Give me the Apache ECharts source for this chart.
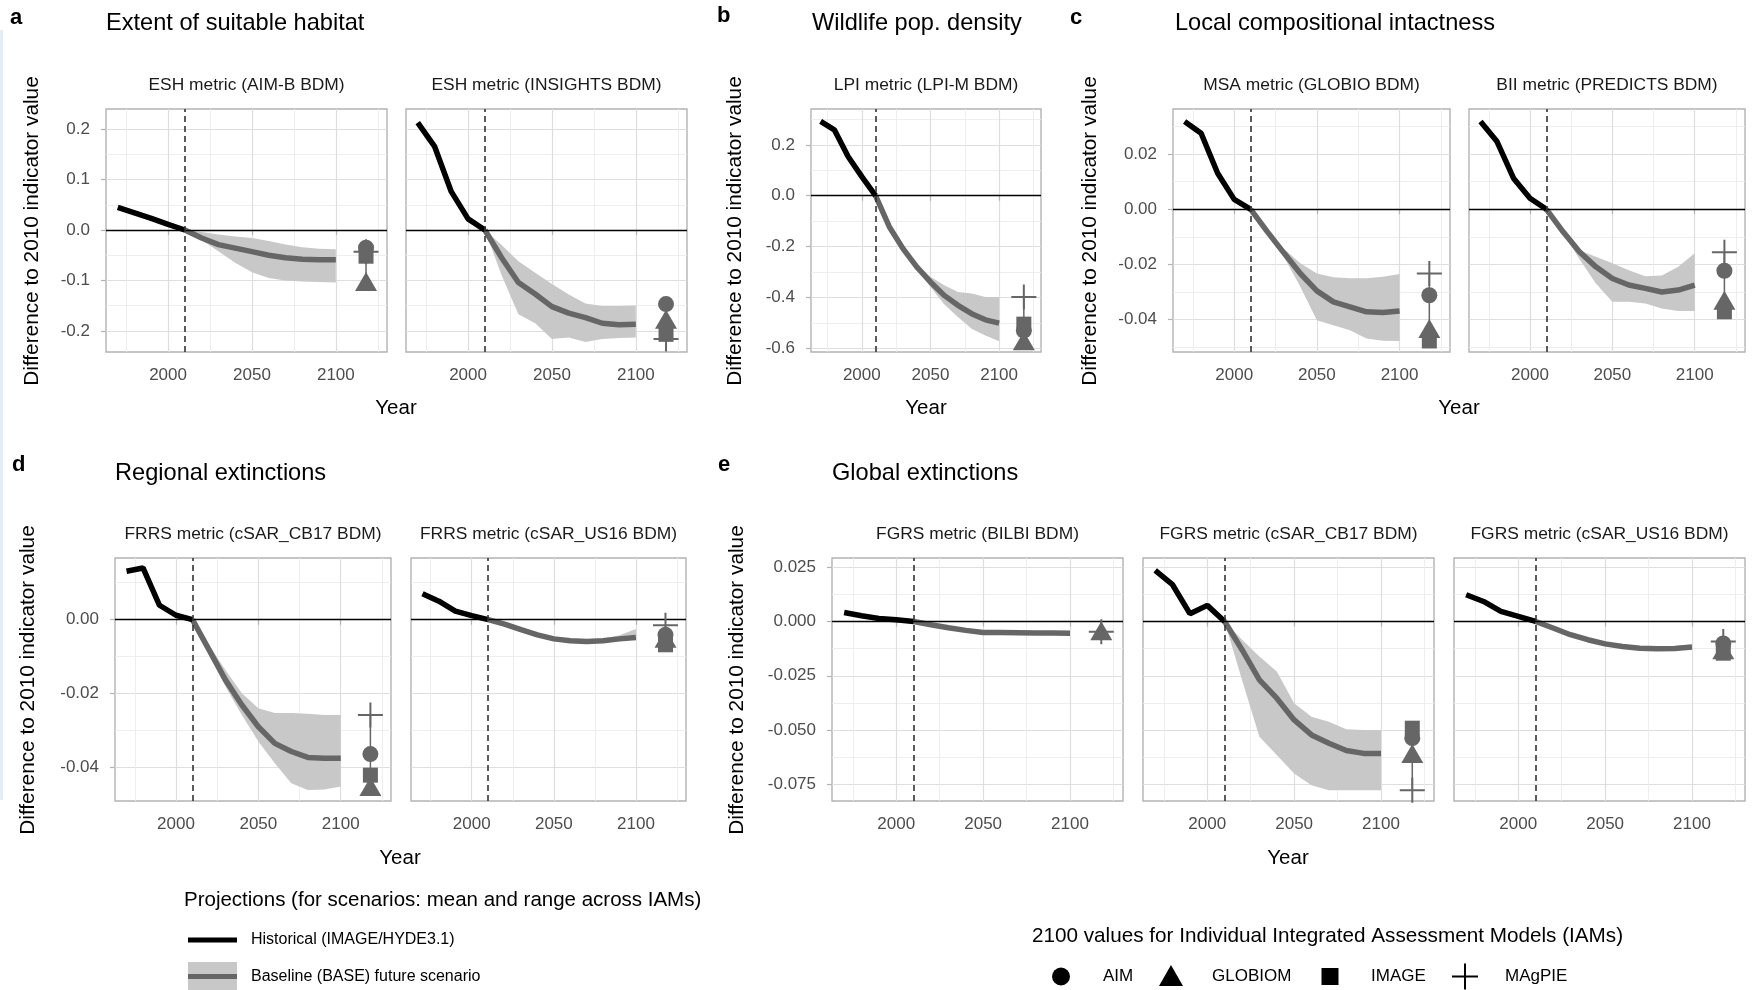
<!DOCTYPE html>
<html>
<head>
<meta charset="utf-8">
<script src="https://cdn.jsdelivr.net/npm/echarts@6/dist/echarts.min.js"></script>
<style>
html,body{margin:0;padding:0;background:#ffffff;}
#chart{width:1752px;height:990px;}
</style>
</head>
<body>
<div id="chart"></div>
<script>
// ---------------- DATA ----------------
const histYears = [1970, 1980, 1990, 2000, 2010];
const futureYears = [2010, 2020, 2030, 2040, 2050, 2060, 2070, 2080, 2090, 2100];
const iamYear = 2118;
const iamNames = ['AIM', 'GLOBIOM', 'IMAGE', 'MAgPIE'];
const xTickLabels = [2000, 2050, 2100];
const xMinorTicks = [1975, 2025, 2075, 2125];
const refYear = 2010;
const refValue = 0;

// a: ESH metric (AIM-B BDM)
const eshAimbHist = [0.045, 0.034, 0.023, 0.011, 0];
const eshAimbMean = [0, -0.016, -0.029, -0.036, -0.043, -0.050, -0.055, -0.058, -0.059, -0.059];
const eshAimbLow  = [0, -0.020, -0.042, -0.065, -0.084, -0.095, -0.100, -0.102, -0.103, -0.104];
const eshAimbHigh = [0, -0.004, -0.009, -0.013, -0.016, -0.022, -0.029, -0.034, -0.037, -0.038];
const eshAimbIam  = [-0.035, -0.102, -0.052, -0.043];

// a: ESH metric (INSIGHTS BDM)
const eshInsHist = [0.213, 0.166, 0.076, 0.022, 0];
const eshInsMean = [0, -0.055, -0.104, -0.127, -0.152, -0.165, -0.174, -0.185, -0.188, -0.187];
const eshInsLow  = [0, -0.090, -0.167, -0.185, -0.216, -0.213, -0.222, -0.216, -0.214, -0.213];
const eshInsHigh = [0, -0.030, -0.062, -0.085, -0.107, -0.128, -0.146, -0.151, -0.151, -0.150];
const eshInsIam  = [-0.147, -0.177, -0.207, -0.216];

// b: LPI metric (LPI-M BDM)
const lpiHist = [0.292, 0.259, 0.154, 0.075, 0];
const lpiMean = [0, -0.122, -0.208, -0.280, -0.339, -0.392, -0.431, -0.464, -0.488, -0.501];
const lpiLow  = [0, -0.127, -0.213, -0.287, -0.359, -0.427, -0.477, -0.523, -0.550, -0.572];
const lpiHigh = [0, -0.117, -0.203, -0.274, -0.319, -0.352, -0.379, -0.385, -0.398, -0.398];
const lpiIam  = [-0.530, -0.570, -0.505, -0.398];

// c: MSA metric (GLOBIO BDM)
const msaHist = [0.0319, 0.0276, 0.0131, 0.0036, 0];
const msaMean = [0, -0.0081, -0.0158, -0.0233, -0.0296, -0.0336, -0.0354, -0.0372, -0.0375, -0.0369];
const msaLow  = [0, -0.0087, -0.0172, -0.0281, -0.0403, -0.0421, -0.0439, -0.0469, -0.0477, -0.0478];
const msaHigh = [0, -0.0075, -0.0143, -0.0196, -0.0233, -0.0247, -0.0250, -0.0250, -0.0245, -0.0235];
const msaIam  = [-0.0312, -0.0433, -0.0478, -0.0233];

// c: BII metric (PREDICTS BDM)
const biiHist = [0.0319, 0.0246, 0.0113, 0.0040, 0];
const biiMean = [0, -0.0081, -0.0154, -0.0209, -0.0251, -0.0275, -0.0287, -0.0300, -0.0293, -0.0275];
const biiLow  = [0, -0.0085, -0.0180, -0.0269, -0.0336, -0.0336, -0.0342, -0.0360, -0.0369, -0.0369];
const biiHigh = [0, -0.0077, -0.0149, -0.0172, -0.0196, -0.0221, -0.0243, -0.0240, -0.0209, -0.0160];
const biiIam  = [-0.0223, -0.0330, -0.0372, -0.0156];

// d: FRRS metric (cSAR_CB17 BDM)
const frrsCbHist = [0.0131, 0.0140, 0.0039, 0.0012, 0];
const frrsCbMean = [0, -0.0081, -0.0163, -0.0231, -0.0290, -0.0335, -0.0357, -0.0373, -0.0375, -0.0375];
const frrsCbLow  = [0, -0.0090, -0.0181, -0.0258, -0.0330, -0.0389, -0.0443, -0.0461, -0.0460, -0.0452];
const frrsCbHigh = [0, -0.0068, -0.0136, -0.0199, -0.0240, -0.0253, -0.0253, -0.0255, -0.0258, -0.0258];
const frrsCbIam  = [-0.0364, -0.0452, -0.0421, -0.0258];

// d: FRRS metric (cSAR_US16 BDM)
const frrsUsHist = [0.0070, 0.0050, 0.0023, 0.0011, 0];
const frrsUsMean = [0, -0.0012, -0.0027, -0.0041, -0.0052, -0.0057, -0.0059, -0.0057, -0.0052, -0.0048];
const frrsUsLow  = [0, -0.0013, -0.0029, -0.0043, -0.0054, -0.0059, -0.0061, -0.0060, -0.0055, -0.0050];
const frrsUsHigh = [0, -0.0010, -0.0025, -0.0038, -0.0049, -0.0053, -0.0054, -0.0051, -0.0042, -0.0025];
const frrsUsIam  = [-0.0041, -0.0050, -0.0068, -0.0015];

// e: FGRS metric (BILBI BDM)
const fgrsBilbiHist = [0.0041, 0.0026, 0.0014, 0.0008, 0];
const fgrsBilbiMean = [0, -0.0015, -0.0029, -0.0041, -0.0051, -0.0051, -0.0052, -0.0053, -0.0053, -0.0054];
const fgrsBilbiLow  = [0, -0.0017, -0.0031, -0.0043, -0.0053, -0.0053, -0.0054, -0.0055, -0.0055, -0.0056];
const fgrsBilbiHigh = [0, -0.0013, -0.0027, -0.0039, -0.0049, -0.0049, -0.0050, -0.0051, -0.0051, -0.0052];
const fgrsBilbiIam  = [null, -0.0043, null, -0.0047];

// e: FGRS metric (cSAR_CB17 BDM)
const fgrsCbHist = [0.0235, 0.0169, 0.0036, 0.0074, 0];
const fgrsCbMean = [0, -0.0130, -0.0269, -0.0353, -0.0453, -0.0522, -0.0560, -0.0594, -0.0607, -0.0607];
const fgrsCbLow  = [0, -0.0269, -0.0530, -0.0614, -0.0699, -0.0753, -0.0776, -0.0776, -0.0776, -0.0776];
const fgrsCbHigh = [0, -0.0084, -0.0161, -0.0230, -0.0376, -0.0438, -0.0461, -0.0496, -0.0499, -0.0499];
const fgrsCbIam  = [-0.0537, -0.0607, -0.0491, -0.0776];

// e: FGRS metric (cSAR_US16 BDM)
const fgrsUsHist = [0.0123, 0.0092, 0.0046, 0.0023, 0];
const fgrsUsMean = [0, -0.0030, -0.0061, -0.0084, -0.0103, -0.0115, -0.0123, -0.0126, -0.0124, -0.0118];
const fgrsUsLow  = [0, -0.0032, -0.0063, -0.0086, -0.0105, -0.0117, -0.0125, -0.0128, -0.0126, -0.0120];
const fgrsUsHigh = [0, -0.0028, -0.0059, -0.0082, -0.0101, -0.0113, -0.0121, -0.0124, -0.0122, -0.0116];
const fgrsUsIam  = [-0.0101, -0.0130, -0.0146, -0.0092];

// y-axis tick labels per panel group
const yTicksA = [-0.2, -0.1, 0, 0.1, 0.2];
const yMinorA = [-0.15, -0.05, 0.05, 0.15];
const yTicksB = [-0.6, -0.4, -0.2, 0, 0.2];
const yMinorB = [-0.5, -0.3, -0.1, 0.1, 0.3];
const yTicksC = [-0.04, -0.02, 0, 0.02];
const yMinorC = [-0.05, -0.03, -0.01, 0.01, 0.03];
const yTicksD = [-0.04, -0.02, 0];
const yMinorD = [-0.03, -0.01, 0.01];
const yTicksE = [-0.075, -0.05, -0.025, 0, 0.025];
const yMinorE = [-0.0625, -0.0375, -0.0125, 0.0125];

// ---------------- CONFIG ----------------
const FONT = 'Liberation Sans, Arial, Helvetica, sans-serif';
const X_MIN = 1963, X_MAX = 2130.5;

const yScales = {
  A: {min: -0.242, max: 0.240, major: yTicksA, minor: yMinorA, dec: 1},
  B: {min: -0.6146, max: 0.341, major: yTicksB, minor: yMinorB, dec: 1},
  C: {min: -0.0518, max: 0.0364, major: yTicksC, minor: yMinorC, dec: 2},
  D: {min: -0.0491, max: 0.0167, major: yTicksD, minor: yMinorD, dec: 2},
  E: {min: -0.0826, max: 0.0292, major: yTicksE, minor: yMinorE, dec: 3}
};

const panels = [
  {strip: 'ESH metric (AIM-B BDM)', hist: eshAimbHist, mean: eshAimbMean, low: eshAimbLow, high: eshAimbHigh, iam: eshAimbIam},
  {strip: 'ESH metric (INSIGHTS BDM)', hist: eshInsHist, mean: eshInsMean, low: eshInsLow, high: eshInsHigh, iam: eshInsIam},
  {strip: 'LPI metric (LPI-M BDM)', hist: lpiHist, mean: lpiMean, low: lpiLow, high: lpiHigh, iam: lpiIam},
  {strip: 'MSA metric (GLOBIO BDM)', hist: msaHist, mean: msaMean, low: msaLow, high: msaHigh, iam: msaIam},
  {strip: 'BII metric (PREDICTS BDM)', hist: biiHist, mean: biiMean, low: biiLow, high: biiHigh, iam: biiIam},
  {strip: 'FRRS metric (cSAR_CB17 BDM)', hist: frrsCbHist, mean: frrsCbMean, low: frrsCbLow, high: frrsCbHigh, iam: frrsCbIam},
  {strip: 'FRRS metric (cSAR_US16 BDM)', hist: frrsUsHist, mean: frrsUsMean, low: frrsUsLow, high: frrsUsHigh, iam: frrsUsIam},
  {strip: 'FGRS metric (BILBI BDM)', hist: fgrsBilbiHist, mean: fgrsBilbiMean, low: fgrsBilbiLow, high: fgrsBilbiHigh, iam: fgrsBilbiIam},
  {strip: 'FGRS metric (cSAR_CB17 BDM)', hist: fgrsCbHist, mean: fgrsCbMean, low: fgrsCbLow, high: fgrsCbHigh, iam: fgrsCbIam},
  {strip: 'FGRS metric (cSAR_US16 BDM)', hist: fgrsUsHist, mean: fgrsUsMean, low: fgrsUsLow, high: fgrsUsHigh, iam: fgrsUsIam}
];

const layout = [
  {left: 106, top: 109, width: 281, height: 243, y: 'A', yLabels: true},
  {left: 406, top: 109, width: 281, height: 243, y: 'A', yLabels: false},
  {left: 811, top: 109, width: 230, height: 243, y: 'B', yLabels: true},
  {left: 1173, top: 109, width: 277, height: 243, y: 'C', yLabels: true},
  {left: 1469, top: 109, width: 276, height: 243, y: 'C', yLabels: false},
  {left: 115, top: 558, width: 276, height: 243, y: 'D', yLabels: true},
  {left: 411, top: 558, width: 275, height: 243, y: 'D', yLabels: false},
  {left: 832, top: 558, width: 291, height: 243, y: 'E', yLabels: true},
  {left: 1143, top: 558, width: 291, height: 243, y: 'E', yLabels: false},
  {left: 1454, top: 558, width: 291, height: 243, y: 'E', yLabels: false}
];

const CROSS = 'path://M-1,-12.5L1,-12.5L1,12.5L-1,12.5ZM-12.5,-1L12.5,-1L12.5,1L-12.5,1Z';
const iamSymbols = ['circle', 'triangle', 'rect', CROSS];
const iamSizes = [16, [22, 19], 15, 25];

const GREY = '#666666';

const grids = [], xAxes = [], yAxes = [], series = [], graphics = [];

function txt(text, x, y, size, opts) {
  opts = opts || {};
  return {
    type: 'text', x: x, y: y, rotation: opts.rotation || 0, silent: true,
    style: {
      text: text, fill: opts.color || '#000000',
      font: (opts.weight || 'normal') + ' ' + size + 'px ' + FONT,
      align: opts.align || 'left', verticalAlign: 'middle'
    }
  };
}

// faint screenshot edge strip present in the reference
graphics.push({type: 'rect', silent: true, shape: {x: 0, y: 30, width: 3, height: 770}, style: {fill: '#e2edf8'}});

panels.forEach(function (p, i) {
  const L = layout[i];
  const Y = yScales[L.y];
  grids.push({
    left: L.left, top: L.top, width: L.width, height: L.height,
    show: true, borderColor: '#b3b3b3', borderWidth: 1.4,
    backgroundColor: 'rgba(0,0,0,0)', containLabel: false, outerBoundsMode: 'none'
  });
  const xi = xAxes.length;
  xAxes.push({
    type: 'value', gridIndex: i, min: X_MIN, max: X_MAX, position: 'bottom',
    axisLine: {show: false},
    axisTick: {show: true, length: 5, lineStyle: {color: '#b3b3b3', width: 1.2}, customValues: xTickLabels},
    axisLabel: {show: true, customValues: xTickLabels, formatter: function (v) { return String(v); },
      color: '#4d4d4d', fontSize: 17, fontFamily: FONT, margin: 15},
    splitLine: {show: true, lineStyle: {color: '#dedede', width: 1.2}}
  });
  xAxes.push({
    type: 'value', gridIndex: i, min: X_MIN, max: X_MAX, position: 'top',
    axisLine: {show: false},
    axisTick: {show: false, customValues: xMinorTicks},
    axisLabel: {show: false, customValues: xMinorTicks},
    splitLine: {show: true, lineStyle: {color: '#ececec', width: 0.9}}
  });
  const yi = yAxes.length;
  yAxes.push({
    type: 'value', gridIndex: i, min: Y.min, max: Y.max, position: 'left',
    axisLine: {show: false},
    axisTick: {show: L.yLabels, length: 5, lineStyle: {color: '#b3b3b3', width: 1.2}, customValues: Y.major},
    axisLabel: {show: L.yLabels, customValues: Y.major, formatter: function (v) { return Number(v).toFixed(Y.dec); },
      color: '#4d4d4d', fontSize: 17, fontFamily: FONT, margin: 16},
    splitLine: {show: true, lineStyle: {color: '#dedede', width: 1.2}}
  });
  yAxes.push({
    type: 'value', gridIndex: i, min: Y.min, max: Y.max, position: 'right',
    axisLine: {show: false},
    axisTick: {show: false, customValues: Y.minor},
    axisLabel: {show: false, customValues: Y.minor},
    splitLine: {show: true, lineStyle: {color: '#ececec', width: 0.9}}
  });

  // range band across IAMs
  series.push({
    type: 'custom', xAxisIndex: xi, yAxisIndex: yi, z: 1, silent: true,
    data: futureYears.map(function (yr, k) { return [yr, p.low[k], p.high[k]]; }),
    renderItem: function (params, api) {
      if (params.dataIndex !== 0) return null;
      const top = futureYears.map(function (yr, k) { return api.coord([yr, p.high[k]]); });
      const bot = futureYears.map(function (yr, k) { return api.coord([yr, p.low[k]]); }).reverse();
      return {type: 'polygon', shape: {points: top.concat(bot)}, style: {fill: '#c8c8c8'}};
    }
  });
  // reference lines (zero line and 2010)
  series.push({
    type: 'line', xAxisIndex: xi, yAxisIndex: yi, z: 2, silent: true,
    data: [[refYear, refValue]], symbol: 'none', lineStyle: {opacity: 0},
    markLine: {
      silent: true, symbol: ['none', 'none'], label: {show: false}, animation: false,
      data: [
        {yAxis: refValue, lineStyle: {color: '#000000', width: 1.3, type: 'solid'}},
        {xAxis: refYear, lineStyle: {color: '#333333', width: 1.6, type: [6, 4]}}
      ]
    }
  });
  // future baseline mean
  series.push({
    type: 'line', xAxisIndex: xi, yAxisIndex: yi, z: 3, silent: true,
    data: futureYears.map(function (yr, k) { return [yr, p.mean[k]]; }),
    symbol: 'none', showSymbol: false, lineStyle: {color: GREY, width: 5.5}
  });
  // historical
  series.push({
    type: 'line', xAxisIndex: xi, yAxisIndex: yi, z: 4, silent: true,
    data: histYears.map(function (yr, k) { return [yr, p.hist[k]]; }),
    symbol: 'none', showSymbol: false, lineStyle: {color: '#000000', width: 5.5}
  });
  // IAM range line
  const vals = p.iam.filter(function (v) { return v !== null; });
  series.push({
    type: 'line', xAxisIndex: xi, yAxisIndex: yi, z: 4, silent: true,
    data: [[iamYear, Math.min.apply(null, vals)], [iamYear, Math.max.apply(null, vals)]],
    symbol: 'none', lineStyle: {color: GREY, width: 1.5}
  });
  // IAM 2100 values
  iamNames.forEach(function (nm, k) {
    if (p.iam[k] === null) return;
    series.push({
      type: 'scatter', name: nm, xAxisIndex: xi, yAxisIndex: yi, z: 5, silent: true,
      symbol: iamSymbols[k], symbolSize: iamSizes[k],
      itemStyle: {color: GREY, opacity: 1},
      data: [[iamYear, p.iam[k]]]
    });
  });

  // strip title
  const rowStripY = L.top < 300 ? 85 : 534;
  graphics.push(txt(p.strip, L.left + L.width / 2, rowStripY, 17.4, {align: 'center', color: '#1a1a1a'}));
});

// panel letters and titles
graphics.push(txt('a', 10, 18, 22, {weight: 'bold'}));
graphics.push(txt('Extent of suitable habitat', 106, 23, 23.6));
graphics.push(txt('b', 717, 16, 22, {weight: 'bold'}));
graphics.push(txt('Wildlife pop. density', 812, 23, 23.6));
graphics.push(txt('c', 1070, 18, 22, {weight: 'bold'}));
graphics.push(txt('Local compositional intactness', 1175, 23, 23.6));
graphics.push(txt('d', 12, 465, 22, {weight: 'bold'}));
graphics.push(txt('Regional extinctions', 115, 473, 23.6));
graphics.push(txt('e', 718, 465, 22, {weight: 'bold'}));
graphics.push(txt('Global extinctions', 832, 473, 23.6));

// axis titles
const yTitle = 'Difference to 2010 indicator value';
[[32, 231], [735, 231], [1090, 231], [28, 680], [737, 680]].forEach(function (pt) {
  graphics.push(txt(yTitle, pt[0], pt[1], 20.8, {align: 'center', rotation: Math.PI / 2}));
});
[[396, 408], [926, 408], [1459, 408], [400, 858], [1288, 858]].forEach(function (pt) {
  graphics.push(txt('Year', pt[0], pt[1], 20.5, {align: 'center'}));
});

// legend: projections
graphics.push(txt('Projections (for scenarios: mean and range across IAMs)', 184, 900, 20.5));
graphics.push({type: 'line', silent: true, shape: {x1: 188, y1: 940, x2: 237, y2: 940}, style: {stroke: '#000000', lineWidth: 5}});
graphics.push(txt('Historical (IMAGE/HYDE3.1)', 251, 940, 16));
graphics.push({type: 'rect', silent: true, shape: {x: 188, y: 962, width: 49, height: 29}, style: {fill: '#c8c8c8'}});
graphics.push({type: 'line', silent: true, shape: {x1: 188, y1: 976.5, x2: 237, y2: 976.5}, style: {stroke: GREY, lineWidth: 5}});
graphics.push(txt('Baseline (BASE) future scenario', 251, 976.5, 16));

// legend: IAM symbols
graphics.push(txt('2100 values for Individual Integrated Assessment Models (IAMs)', 1032, 936, 20.7));
graphics.push({type: 'circle', silent: true, shape: {cx: 1061, cy: 976.5, r: 9}, style: {fill: '#000000'}});
graphics.push({type: 'polygon', silent: true, shape: {points: [[1171, 965], [1183, 986], [1159, 986]]}, style: {fill: '#000000'}});
graphics.push({type: 'rect', silent: true, shape: {x: 1321.5, y: 968, width: 17, height: 17}, style: {fill: '#000000'}});
graphics.push({type: 'line', silent: true, shape: {x1: 1452, y1: 976.5, x2: 1478, y2: 976.5}, style: {stroke: '#000000', lineWidth: 2}});
graphics.push({type: 'line', silent: true, shape: {x1: 1465, y1: 963.5, x2: 1465, y2: 989.5}, style: {stroke: '#000000', lineWidth: 2}});
[['AIM', 1103], ['GLOBIOM', 1212], ['IMAGE', 1371], ['MAgPIE', 1505]].forEach(function (it) {
  graphics.push(txt(it[0], it[1], 976.5, 17));
});

const chart = echarts.init(document.getElementById('chart'), null, {renderer: 'canvas', width: 1752, height: 990});
chart.setOption({
  animation: false,
  backgroundColor: '#ffffff',
  textStyle: {fontFamily: FONT},
  tooltip: {show: false},
  grid: grids,
  xAxis: xAxes,
  yAxis: yAxes,
  series: series,
  graphic: {elements: graphics}
});
</script>
</body>
</html>
